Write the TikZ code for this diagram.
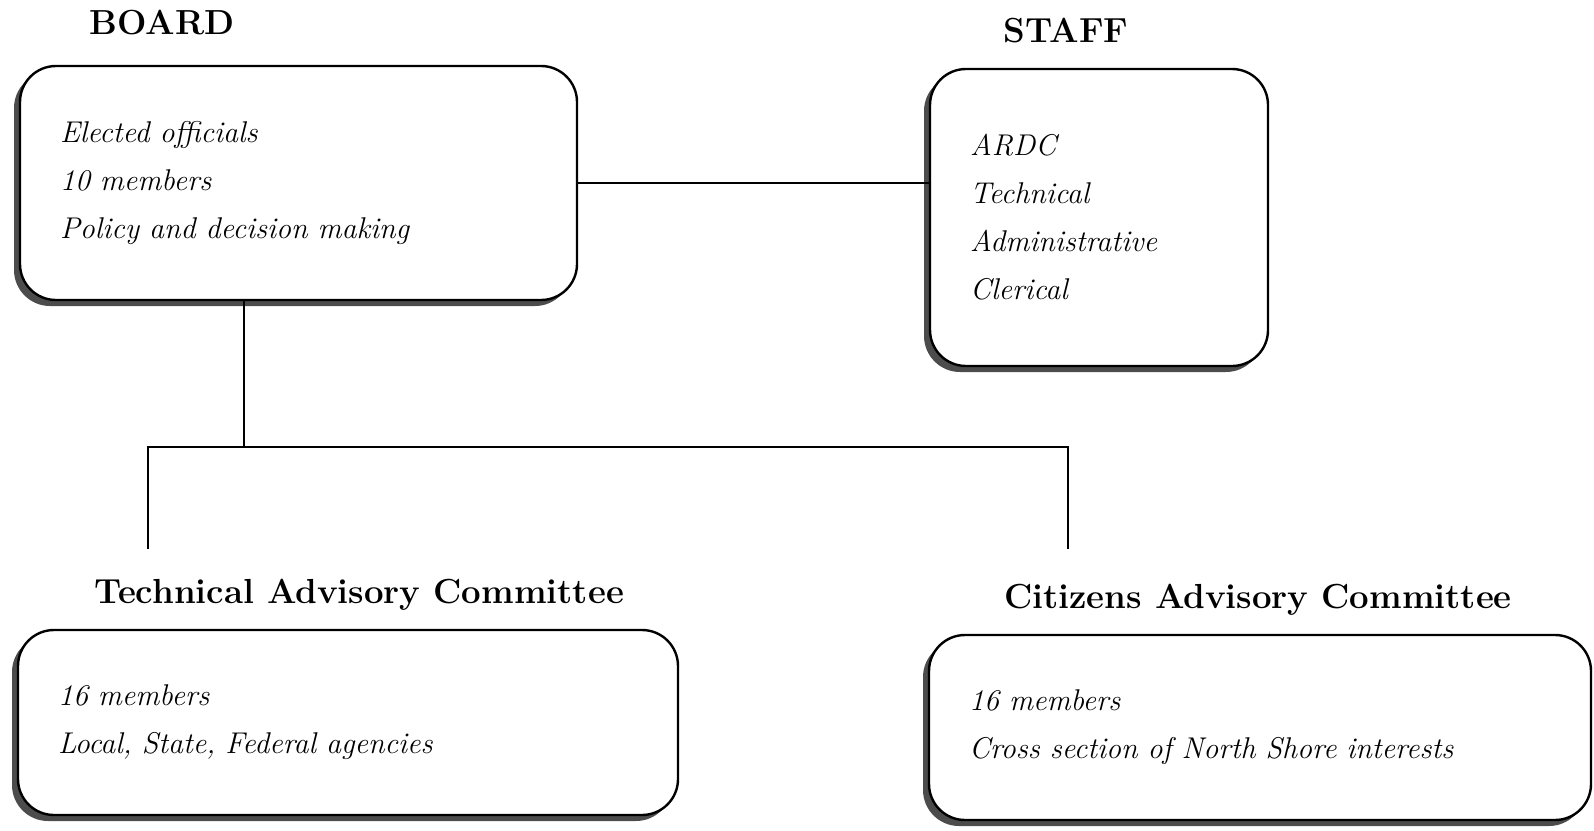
\documentclass[tikz,border=0pt]{standalone}
\usetikzlibrary{positioning,shadows}
\tikzset{
  panel/.style={draw, line width=1.2pt, rounded corners=18pt, fill=white,
    align=left, inner xsep=20pt,
    drop shadow={shadow xshift=-3pt, shadow yshift=-3pt, fill=black!70, opacity=1},
    font=\fontsize{15}{24}\selectfont\itshape},
  heading/.style={font=\fontsize{17.4}{20}\selectfont\bfseries},
  link/.style={line width=1pt}
}
\begin{document}
\begin{tikzpicture}[x=0.5pt,y=-0.5pt]
	\useasboundingbox (0,0) rectangle (1594,830);
	%Headings
	\node[heading] (boardtitle) at (162,23) {BOARD};
	\node[heading] (stafftitle) at (1066,31) {STAFF};
	\node[heading] (tactitle) at (359,595) {Technical Advisory Committee};
	\node[heading] (cactitle) at (1258,600) {Citizens Advisory Committee};
	%Boxes
	\node[panel, text width=238.5pt, minimum height=117pt] (board) at (298.5,183)
		{Elected officials\\10 members\\Policy and decision making};
	\node[panel, text width=129pt, minimum height=148.5pt] (staff) at (1099,217.5)
		{ARDC\\Technical\\Administrative\\Clerical\\[7pt]};
	\node[panel, text width=290pt, minimum height=92.5pt] (tac) at (348,722.5)
		{16 members\\Local, State, Federal agencies};
	\node[panel, text width=291pt, minimum height=92.5pt] (cac) at (1260,727.5)
		{16 members\\Cross section of North Shore interests};
	%Lines
	\coordinate (fork) at (244,447);
	\coordinate (tacdrop) at (148,549);
	\coordinate (cacdrop) at (1068,549);
	\draw[link] (board.east) -- (board.east -| staff.west);
	\draw[link] (board.south -| fork) -- (fork);
	\draw[link] (tacdrop) -- (tacdrop |- fork) -- (cacdrop |- fork) -- (cacdrop);
\end{tikzpicture}
\end{document}
